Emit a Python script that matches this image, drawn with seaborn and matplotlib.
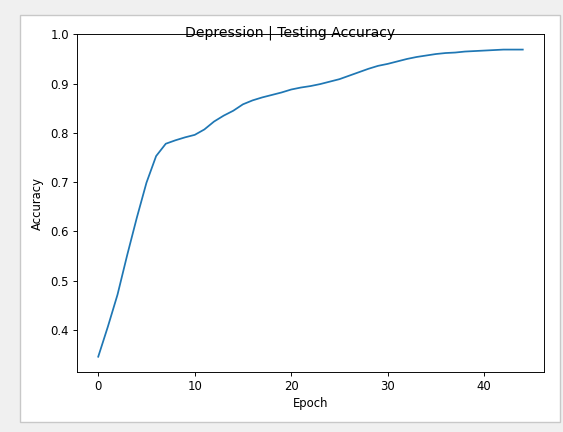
import matplotlib
matplotlib.use("Agg")
import matplotlib.pyplot as plt
import seaborn as sns
import pandas as pd
from matplotlib.patches import Rectangle

epochs = list(range(45))
accuracy = [0.346, 0.407, 0.472, 0.552, 0.628, 0.699, 0.753, 0.778, 0.785, 0.791,
            0.796, 0.807, 0.823, 0.835, 0.845, 0.858, 0.866, 0.872, 0.877, 0.882,
            0.888, 0.892, 0.895, 0.899, 0.904, 0.909, 0.916, 0.923, 0.930, 0.936,
            0.940, 0.945, 0.950, 0.954, 0.957, 0.960, 0.962, 0.963, 0.965, 0.966,
            0.967, 0.968, 0.969, 0.969, 0.969]
title = "Depression | Testing Accuracy"
xlabel = "Epoch"
ylabel = "Accuracy"

df = pd.DataFrame({"Epoch": epochs, "Accuracy": accuracy})

s = 0.84
plt.rcParams.update({
    "font.family": ["DejaVu Sans"],
    "font.size": 10 * s,
    "axes.linewidth": 0.8 * s,
    "xtick.major.width": 0.8 * s,
    "ytick.major.width": 0.8 * s,
    "xtick.major.size": 3.5 * s,
    "ytick.major.size": 3.5 * s,
    "xtick.major.pad": 3.5 * s,
    "ytick.major.pad": 3.5 * s,
    "axes.labelpad": 4 * s,
})

W, H = 563, 432
fig = plt.figure(figsize=(W / 100, H / 100), dpi=100, facecolor="#f0f0f0")
panel = Rectangle((20 / W, 1 - 422 / H), 540 / W, 407 / H,
                  transform=fig.transFigure, facecolor="white",
                  edgecolor="#c8c8c8", linewidth=1.0, zorder=-10)
fig.patches.append(panel)

ax = fig.add_axes([77 / W, 1 - 372 / H, (544 - 77) / W, (372 - 34.3) / H])
ax.set_zorder(1)
sns.lineplot(data=df, x="Epoch", y="Accuracy", ax=ax, color="#1f77b4",
             linewidth=1.5 * s)
ax.set_ylim(0.315, 1.0)
ax.set_xlabel(xlabel, labelpad=4 * s - 0.8)
ax.set_ylabel(ylabel, labelpad=4 * s + 1.4)
ax.set_xticks([0, 10, 20, 30, 40])
ax.set_yticks([0.4, 0.5, 0.6, 0.7, 0.8, 0.9, 1.0])
for sp in ax.spines.values():
    sp.set_visible(True)
    sp.set_color("black")

fig.suptitle(title, x=290 / W, y=1 - 25 / H, va="top", fontsize=12 * s, zorder=5)

fig.savefig("out.png", dpi=100, facecolor=fig.get_facecolor())
